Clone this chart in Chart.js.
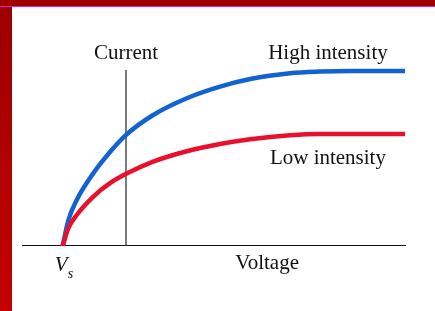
<!DOCTYPE html>
<html>
<head>
<meta charset="utf-8">
<script src="https://cdn.jsdelivr.net/npm/chart.js@4"></script>
<style>
  html, body { margin: 0; padding: 0; background: #fff; }
  #wrap { position: relative; width: 435px; height: 311px; overflow: hidden; background: #fff; }
  #left { position: absolute; left: 0; top: 0; width: 12px; height: 311px;
          background: linear-gradient(#9c0000, #c40000); }
  #top { position: absolute; left: 0; top: 0; width: 435px; height: 6px; background: #9e0000;
         border-bottom: 1px solid #e020d0; }
  canvas { position: absolute; left: 0; top: 0; }
</style>
</head>
<body>
<div id="wrap">
  <canvas id="chart" width="435" height="311"></canvas>
  <div id="left"></div>
  <div id="top"></div>
</div>
<script>
// voltage (arbitrary units), Vs ~ 1.27
const voltage = [1.27, 1.45, 1.71, 2.23, 2.75, 3.27, 4.10, 5.15, 6.19, 7.13, 8.38, 9.31, 10.25, 11.97];
const highIntensity = [0, 1.3, 2.3, 3.64, 4.7, 5.58, 6.55, 7.39, 7.97, 8.35, 8.64, 8.72, 8.75, 8.75];
const lowIntensity = [0, 0.89, 1.55, 2.47, 3.14, 3.62, 4.22, 4.74, 5.1, 5.34, 5.54, 5.6, 5.6, 5.6];
const currentAxisX = 3.25;
const currentAxisTop = 8.8;
const voltageRange = [0, 12];

const toPoints = (xs, ys) => xs.map((x, i) => ({ x: x, y: ys[i] }));

// text annotations, in data units
const labels = [
  { text: 'Current', x: 3.25, y: 9.35, align: 'center' },
  { text: 'High intensity', x: 9.56, y: 9.35, align: 'center' },
  { text: 'Low intensity', x: 9.56, y: 4.1, align: 'center' },
  { text: 'Voltage', x: 7.66, y: -1.15, align: 'center' }
];

const textPlugin = {
  id: 'textLabels',
  afterDatasetsDraw(chart) {
    const ctx = chart.ctx;
    const xs = chart.scales.x;
    const ys = chart.scales.y;
    ctx.save();
    ctx.fillStyle = '#111';
    ctx.textBaseline = 'alphabetic';
    ctx.font = '21px "Liberation Serif", "DejaVu Serif", serif';
    labels.forEach(l => {
      ctx.textAlign = l.align;
      ctx.fillText(l.text, xs.getPixelForValue(l.x), ys.getPixelForValue(l.y));
    });
    // V with subscript s
    const vx = xs.getPixelForValue(voltage[0]);
    const vy = ys.getPixelForValue(-1.25);
    ctx.textAlign = 'right';
    ctx.font = 'italic 21px "Liberation Serif", serif';
    ctx.fillText('V', vx + 5, vy);
    ctx.textAlign = 'left';
    ctx.font = 'italic 14px "Liberation Serif", serif';
    ctx.fillText('s', vx + 5, vy + 7);
    ctx.restore();
  }
};

new Chart(document.getElementById('chart'), {
  type: 'line',
  data: {
    datasets: [
      {
        label: 'Low intensity',
        data: toPoints(voltage, lowIntensity),
        borderColor: '#e8102c',
        borderWidth: 4.5,
        pointRadius: 0,
        cubicInterpolationMode: 'monotone',
        order: 0
      },
      {
        label: 'High intensity',
        data: toPoints(voltage, highIntensity),
        borderColor: '#1262d2',
        borderWidth: 4.5,
        pointRadius: 0,
        cubicInterpolationMode: 'monotone',
        order: 1
      },
      {
        label: 'Current',
        data: [{ x: currentAxisX, y: 0 }, { x: currentAxisX, y: currentAxisTop }],
        borderColor: '#222',
        borderWidth: 1.2,
        pointRadius: 0,
        order: 2
      },
      {
        label: 'Voltage',
        data: [{ x: voltageRange[0], y: 0 }, { x: voltageRange[1], y: 0 }],
        borderColor: '#111',
        borderWidth: 1.8,
        pointRadius: 0,
        order: 3
      }
    ]
  },
  options: {
    responsive: false,
    animation: false,
    layout: { padding: { left: 22, right: 29, top: 46, bottom: 65 } },
    plugins: { legend: { display: false }, tooltip: { enabled: false } },
    scales: {
      x: { type: 'linear', min: voltageRange[0], max: voltageRange[1], display: false },
      y: { type: 'linear', min: 0, max: 10, display: false }
    },
    elements: { line: { borderCapStyle: 'butt' } }
  },
  plugins: [textPlugin]
});
</script>
</body>
</html>
